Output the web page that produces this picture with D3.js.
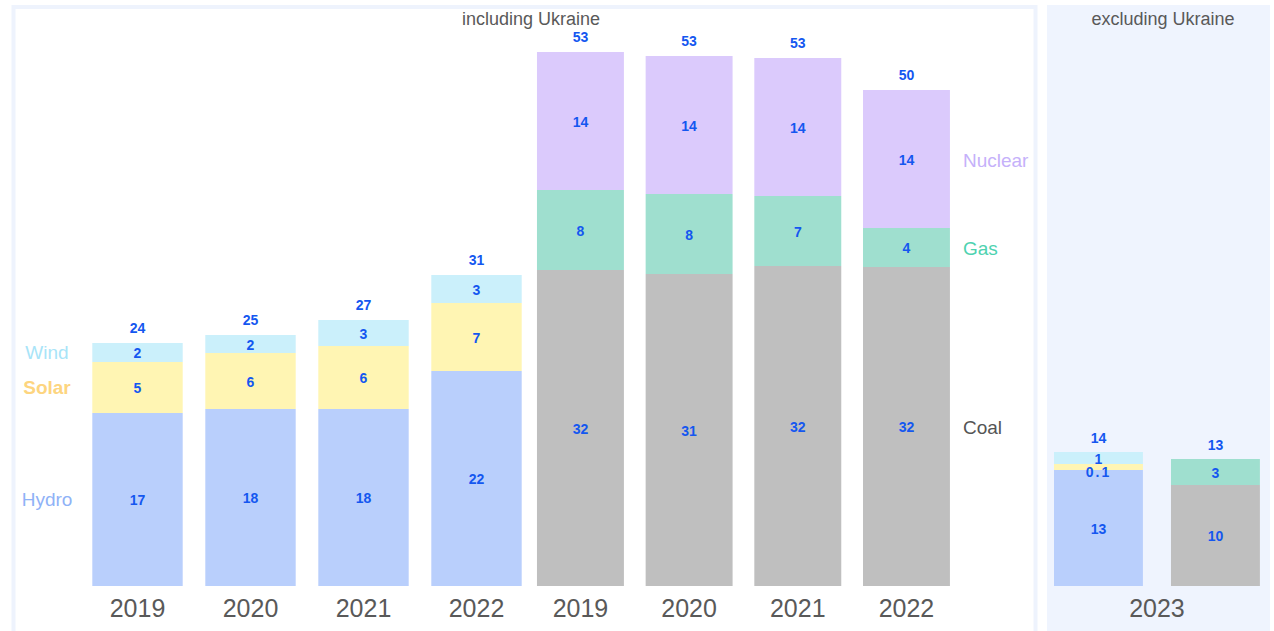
<!DOCTYPE html>
<html>
<head>
<meta charset="utf-8">
<script src="https://cdn.jsdelivr.net/npm/d3@7/dist/d3.min.js"></script>
<style>
  html, body { margin: 0; padding: 0; background: #fff; }
  svg { display: block; font-family: "Liberation Sans", Arial, sans-serif; }
</style>
</head>
<body>
<svg id="chart" width="1274" height="631"></svg>
<script>
// including Ukraine, renewables group
const years = ["2019", "2020", "2021", "2022"];
const hydro = [17.3, 17.7, 17.7, 21.5];
const solar = [5.1, 5.6, 6.3, 6.8];
const wind = [1.9, 1.8, 2.6, 2.8];

// including Ukraine, thermal + nuclear group
const coal = [31.6, 31.2, 32.0, 31.9];
const gas = [8.0, 8.0, 7.0, 3.9];
const nuclear = [13.8, 13.8, 13.8, 13.8];

// excluding Ukraine, 2023
const exYear = "2023";
const exRenew = { hydro: 11.6, solar: 0.6, wind: 1.2 };
const exFossil = { coal: 10.1, gas: 2.6 };
const exRenewLabels = ["13", "0.1", "1"];
const exFossilLabels = ["10", "3"];
const exTotals = ["14", "13"];

const renewKeys = ["hydro", "solar", "wind"];
const fossilKeys = ["coal", "gas", "nuclear"];
const seriesNames = { hydro: "Hydro", solar: "Solar", wind: "Wind", coal: "Coal", gas: "Gas", nuclear: "Nuclear" };

const fills = {
  hydro: "#b9cffc", solar: "#fff5b3", wind: "#cbf0fb",
  coal: "#bfbfbf", gas: "#9fdfcf", nuclear: "#dbcafc"
};
const nameColors = {
  hydro: "#8fb2f7", solar: "#fdd57f", wind: "#a8e4f8",
  coal: "#555555", gas: "#4ed2b0", nuclear: "#c5b1fa"
};
const numColor = "#1457f0";
const greyText = "#595959";

const svg = d3.select("#chart");
const fmt = d3.format(".0f");

// panels
svg.append("rect")
  .attr("x", 13.5).attr("y", 7).attr("width", 1022).attr("height", 640)
  .attr("fill", "#fff").attr("stroke", "#eef3fd").attr("stroke-width", 4);
svg.append("rect")
  .attr("x", 1047).attr("y", 5).attr("width", 223).attr("height", 640)
  .attr("fill", "#eff4fe");

const y = d3.scaleLinear().domain([0, 58.6]).range([586, 0]);

const xRenew = d3.scaleBand().domain(years).range([81, 533]).paddingInner(0.2).paddingOuter(0.1);
const xFossil = d3.scaleBand().domain(years).range([526.1, 960.8]).paddingInner(0.2).paddingOuter(0.1);
const xEx = d3.scaleBand().domain(["renew", "fossil"]).range([1042.3, 1271.6]).paddingInner(0.24).paddingOuter(0.1);

const renewRows = years.map((yr, i) => ({ year: yr, hydro: hydro[i], solar: solar[i], wind: wind[i] }));
const fossilRows = years.map((yr, i) => ({ year: yr, coal: coal[i], gas: gas[i], nuclear: nuclear[i] }));

function drawGroup(rows, keys, x, cls) {
  const stacked = d3.stack().keys(keys)(rows);
  const g = svg.append("g").attr("class", cls);

  for (const layer of stacked) {
    g.selectAll(null)
      .data(layer)
      .join("rect")
      .attr("x", (d) => x(d.data.year))
      .attr("width", x.bandwidth())
      .attr("y", (d) => y(d[1]))
      .attr("height", (d) => y(d[0]) - y(d[1]))
      .attr("fill", fills[layer.key]);

    g.selectAll(null)
      .data(layer)
      .join("text")
      .attr("x", (d) => x(d.data.year) + x.bandwidth() / 2)
      .attr("y", (d) => (y(d[0]) + y(d[1])) / 2 + 1)
      .attr("dy", "0.35em")
      .attr("text-anchor", "middle")
      .attr("font-size", 14)
      .attr("font-weight", "bold")
      .attr("fill", numColor)
      .text((d) => fmt(d[1] - d[0]));
  }

  const top = stacked[stacked.length - 1];
  g.selectAll(null)
    .data(top)
    .join("text")
    .attr("x", (d) => x(d.data.year) + x.bandwidth() / 2)
    .attr("y", (d) => y(d[1]) - 15)
    .attr("dy", "0.35em")
    .attr("text-anchor", "middle")
    .attr("font-size", 14)
    .attr("font-weight", "bold")
    .attr("fill", numColor)
    .text((d) => fmt(d[1]));

  g.selectAll(null)
    .data(years)
    .join("text")
    .attr("x", (d) => x(d) + x.bandwidth() / 2)
    .attr("y", 608)
    .attr("dy", "0.35em")
    .attr("text-anchor", "middle")
    .attr("font-size", 25)
    .attr("fill", greyText)
    .text((d) => d);

  return stacked;
}

const renewStack = drawGroup(renewRows, renewKeys, xRenew, "renew");
const fossilStack = drawGroup(fossilRows, fossilKeys, xFossil, "fossil");

// series names: left of first renewables bar, right of last fossil bar
for (const layer of renewStack) {
  const d = layer[0];
  svg.append("text")
    .attr("x", 47)
    .attr("y", (y(d[0]) + y(d[1])) / 2)
    .attr("dy", "0.35em")
    .attr("text-anchor", "middle")
    .attr("font-size", 19)
    .attr("font-weight", layer.key === "solar" ? "bold" : "normal")
    .attr("fill", nameColors[layer.key])
    .text(seriesNames[layer.key]);
}
for (const layer of fossilStack) {
  const d = layer[layer.length - 1];
  svg.append("text")
    .attr("x", xFossil(d.data.year) + xFossil.bandwidth() + 13)
    .attr("y", (y(d[0]) + y(d[1])) / 2 + 1)
    .attr("dy", "0.35em")
    .attr("font-size", 19)
    .attr("fill", nameColors[layer.key])
    .text(seriesNames[layer.key]);
}

// 2023 panel
const exStacks = [
  { id: "renew", stack: d3.stack().keys(renewKeys)([exRenew]), labels: exRenewLabels, total: exTotals[0] },
  { id: "fossil", stack: d3.stack().keys(["coal", "gas"])([exFossil]), labels: exFossilLabels, total: exTotals[1] }
];
const gEx = svg.append("g").attr("class", "ex");
for (const s of exStacks) {
  s.stack.forEach((layer) => {
    const d = layer[0];
    gEx.append("rect")
      .attr("x", xEx(s.id))
      .attr("width", xEx.bandwidth())
      .attr("y", y(d[1]))
      .attr("height", y(d[0]) - y(d[1]))
      .attr("fill", fills[layer.key]);
  });
  s.stack.forEach((layer, i) => {
    const d = layer[0];
    const mid = (y(d[0]) + y(d[1])) / 2;
    gEx.append("text")
      .attr("x", xEx(s.id) + xEx.bandwidth() / 2)
      .attr("y", layer.key === "solar" ? mid + 5 : mid + 1)
      .attr("dy", "0.35em")
      .attr("text-anchor", "middle")
      .attr("font-size", 14)
      .attr("font-weight", "bold")
      .attr("letter-spacing", layer.key === "solar" ? 2 : 0)
      .attr("fill", numColor)
      .text(s.labels[i]);
  });
  const topVal = s.stack[s.stack.length - 1][0][1];
  gEx.append("text")
    .attr("x", xEx(s.id) + xEx.bandwidth() / 2)
    .attr("y", y(topVal) - 14)
    .attr("dy", "0.35em")
    .attr("text-anchor", "middle")
    .attr("font-size", 14)
    .attr("font-weight", "bold")
    .attr("fill", numColor)
    .text(s.total);
}
gEx.append("text")
  .attr("x", (xEx("renew") + xEx("fossil") + xEx.bandwidth()) / 2)
  .attr("y", 608)
  .attr("dy", "0.35em")
  .attr("text-anchor", "middle")
  .attr("font-size", 25)
  .attr("fill", greyText)
  .text(exYear);

// panel titles
svg.append("text")
  .attr("x", 531).attr("y", 19).attr("dy", "0.35em")
  .attr("text-anchor", "middle").attr("font-size", 18).attr("fill", greyText)
  .text("including Ukraine");
svg.append("text")
  .attr("x", 1163).attr("y", 19).attr("dy", "0.35em")
  .attr("text-anchor", "middle").attr("font-size", 18).attr("fill", greyText)
  .text("excluding Ukraine");
</script>
</body>
</html>
